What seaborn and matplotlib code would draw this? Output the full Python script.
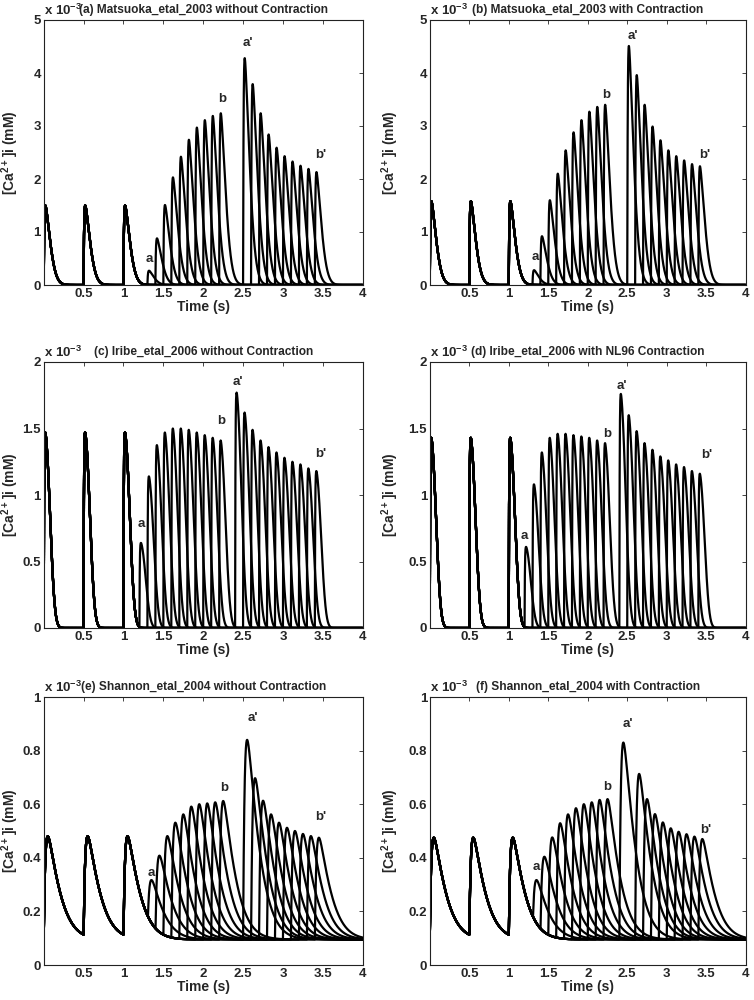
import numpy as np
import pandas as pd
import matplotlib
matplotlib.use("Agg")
import matplotlib.pyplot as plt
from matplotlib.ticker import FormatStrFormatter
import seaborn as sns

# pacing beats (one off-screen beat at -0.5 s sets the starting level)
S1_TIMES = [-0.5, 0.0, 0.5, 1.0]
TIME_TICKS = [0.5, 1.0, 1.5, 2.0, 2.5, 3.0, 3.5, 4.0]

# (a) Matsuoka_etal_2003 without contraction  (values in 1e-3 mM)
A_S1_PEAK = 1.50
A_S2_TIMES = [1.3, 1.4, 1.5, 1.6, 1.7, 1.8, 1.9, 2.0, 2.1, 2.2]
A_S2_PEAKS = [0.27, 0.88, 1.51, 2.03, 2.42, 2.74, 2.97, 3.11, 3.19, 3.24]
A_S3_TIMES = [2.5, 2.6, 2.7, 2.8, 2.9, 3.0, 3.1, 3.2, 3.3, 3.4]
A_S3_PEAKS = [4.28, 3.79, 3.24, 2.84, 2.59, 2.43, 2.33, 2.25, 2.19, 2.13]
A_LETTERS = [("a", 1.32, 0.50), ("b", 2.24, 3.51), ("a'", 2.56, 4.56), ("b'", 3.47, 2.45)]

# (b) Matsuoka_etal_2003 with contraction
B_S1_PEAK = 1.58
B_S2_TIMES = [1.3, 1.4, 1.5, 1.6, 1.7, 1.8, 1.9, 2.0, 2.1, 2.2]
B_S2_PEAKS = [0.28, 0.92, 1.60, 2.10, 2.54, 2.88, 3.11, 3.27, 3.36, 3.40]
B_S3_TIMES = [2.5, 2.6, 2.7, 2.8, 2.9, 3.0, 3.1, 3.2, 3.3, 3.4]
B_S3_PEAKS = [4.51, 3.96, 3.40, 2.99, 2.73, 2.54, 2.43, 2.35, 2.28, 2.24]
B_LETTERS = [("a", 1.33, 0.53), ("b", 2.23, 3.58), ("a'", 2.57, 4.69), ("b'", 3.48, 2.45)]

# (c) Iribe_etal_2006 without contraction
C_S1_PEAK = 1.47
C_S2_TIMES = [1.2, 1.3, 1.4, 1.5, 1.6, 1.7, 1.8, 1.9, 2.0, 2.1, 2.2]
C_S2_PEAKS = [0.64, 1.14, 1.375, 1.47, 1.50, 1.50, 1.49, 1.47, 1.45, 1.43, 1.41]
C_S3_TIMES = [2.4, 2.5, 2.6, 2.7, 2.8, 2.9, 3.0, 3.1, 3.2, 3.3, 3.4]
C_S3_PEAKS = [1.77, 1.62, 1.49, 1.41, 1.36, 1.32, 1.28, 1.25, 1.23, 1.20, 1.18]
C_LETTERS = [("a", 1.23, 0.78), ("b", 2.23, 1.56), ("a'", 2.43, 1.85), ("b'", 3.47, 1.31)]

# (d) Iribe_etal_2006 with NL96 contraction
D_S1_PEAK = 1.43
D_S2_TIMES = [1.2, 1.3, 1.4, 1.5, 1.6, 1.7, 1.8, 1.9, 2.0, 2.1, 2.2]
D_S2_PEAKS = [0.61, 1.08, 1.32, 1.43, 1.46, 1.46, 1.45, 1.44, 1.43, 1.41, 1.39]
D_S3_TIMES = [2.4, 2.5, 2.6, 2.7, 2.8, 2.9, 3.0, 3.1, 3.2, 3.3, 3.4]
D_S3_PEAKS = [1.76, 1.60, 1.48, 1.39, 1.34, 1.29, 1.26, 1.23, 1.21, 1.18, 1.16]
D_LETTERS = [("a", 1.20, 0.69), ("b", 2.24, 1.46), ("a'", 2.43, 1.82), ("b'", 3.51, 1.30)]

# (e) Shannon_etal_2004 without contraction
E_S1_PEAK = 0.48
E_S2_TIMES = [1.3, 1.4, 1.5, 1.6, 1.7, 1.8, 1.9, 2.0, 2.1, 2.2]
E_S2_PEAKS = [0.317, 0.408, 0.481, 0.531, 0.562, 0.591, 0.600, 0.603, 0.607, 0.612]
E_S3_TIMES = [2.5, 2.6, 2.7, 2.8, 2.9, 3.0, 3.1, 3.2, 3.3, 3.4]
E_S3_PEAKS = [0.84, 0.697, 0.613, 0.562, 0.531, 0.512, 0.500, 0.489, 0.481, 0.475]
E_LETTERS = [("a", 1.35, 0.345), ("b", 2.26, 0.66), ("a'", 2.62, 0.92), ("b'", 3.48, 0.553)]

# (f) Shannon_etal_2004 with contraction
F_S1_PEAK = 0.475
F_S2_TIMES = [1.3, 1.4, 1.5, 1.6, 1.7, 1.8, 1.9, 2.0, 2.1, 2.2]
F_S2_PEAKS = [0.317, 0.404, 0.476, 0.529, 0.562, 0.585, 0.600, 0.607, 0.616, 0.619]
F_S3_TIMES = [2.4, 2.6, 2.7, 2.8, 2.9, 3.0, 3.1, 3.2, 3.3, 3.4]
F_S3_PEAKS = [0.83, 0.713, 0.619, 0.563, 0.532, 0.510, 0.497, 0.488, 0.479, 0.470]
F_LETTERS = [("a", 1.35, 0.365), ("b", 2.25, 0.663), ("a'", 2.51, 0.90), ("b'", 3.50, 0.504)]

TITLES = ["(a) Matsuoka_etal_2003 without Contraction",
          "(b) Matsuoka_etal_2003 with Contraction",
          "(c) Iribe_etal_2006 without Contraction",
          "(d) Iribe_etal_2006 with NL96 Contraction",
          "(e) Shannon_etal_2004 without Contraction",
          "(f) Shannon_etal_2004 with Contraction"]

# transient shape per model: rise time, decay time, decay exponent, resting level
MATSUOKA = dict(rise=0.006, decay=0.1, power=1.7, base=0.0, ymax=5, ystep=1)
IRIBE = dict(rise=0.004, decay=0.1, power=2.4, base=0.0, ymax=2, ystep=0.5)
SHANNON = dict(rise=0.02, decay=0.2, power=1.3, base=0.095, ymax=1, ystep=0.2)

panels = [
    (A_S1_PEAK, A_S2_TIMES, A_S2_PEAKS, A_S3_TIMES, A_S3_PEAKS, A_LETTERS, MATSUOKA),
    (B_S1_PEAK, B_S2_TIMES, B_S2_PEAKS, B_S3_TIMES, B_S3_PEAKS, B_LETTERS, MATSUOKA),
    (C_S1_PEAK, C_S2_TIMES, C_S2_PEAKS, C_S3_TIMES, C_S3_PEAKS, C_LETTERS, IRIBE),
    (D_S1_PEAK, D_S2_TIMES, D_S2_PEAKS, D_S3_TIMES, D_S3_PEAKS, D_LETTERS, IRIBE),
    (E_S1_PEAK, E_S2_TIMES, E_S2_PEAKS, E_S3_TIMES, E_S3_PEAKS, E_LETTERS, SHANNON),
    (F_S1_PEAK, F_S2_TIMES, F_S2_PEAKS, F_S3_TIMES, F_S3_PEAKS, F_LETTERS, SHANNON),
]


def shape(s, rise, decay, power):
    s = np.clip(s, 0, None)
    return (1 - np.exp(-s / rise)) * np.exp(-(s / decay) ** power)


def traces(s1_peak, s2_times, s2_peaks, s3_times, s3_peaks, model):
    t = np.arange(0, 4.0005, 0.001)
    grid = np.linspace(0, 1, 20001)
    norm = shape(grid, model["rise"], model["decay"], model["power"]).max()
    base = model["base"]
    rows = []
    for k in range(len(s2_times)):
        beats = [(ts, s1_peak) for ts in S1_TIMES]
        beats += [(s2_times[k], s2_peaks[k]), (s3_times[k], s3_peaks[k])]
        ca = np.zeros_like(t)
        for ts, p in beats:
            f = shape(t - ts, model["rise"], model["decay"], model["power"]) / norm
            ca = np.maximum(ca, (p - base) * f)
        rows.append(pd.DataFrame({"t": t, "ca": base + ca, "trace": k}))
    return pd.concat(rows, ignore_index=True)


sns.set_theme(style="white")
plt.rcParams["font.family"] = ["Liberation Sans", "DejaVu Sans"]
plt.rcParams["font.weight"] = "bold"
plt.rcParams["axes.labelweight"] = "bold"
plt.rcParams["mathtext.fontset"] = "custom"
plt.rcParams["mathtext.rm"] = "Liberation Sans:bold"
plt.rcParams["mathtext.bf"] = "Liberation Sans:bold"
plt.rcParams["mathtext.default"] = "bf"

fig = plt.figure(figsize=(7.54, 10), dpi=100)
positions = [
    [0.058, 0.715, 0.423, 0.265], [0.570, 0.715, 0.419, 0.265],
    [0.058, 0.372, 0.423, 0.266], [0.570, 0.372, 0.419, 0.266],
    [0.058, 0.035, 0.423, 0.268], [0.570, 0.035, 0.419, 0.268],
]
# y label anchor (its right edge), in axes fractions, left vs right column
ylabel_x = [-0.071, -0.09]

for i, (s1, s2t, s2p, s3t, s3p, letters, model) in enumerate(panels):
    ax = fig.add_axes(positions[i])
    df = traces(s1, s2t, s2p, s3t, s3p, model)
    sns.lineplot(data=df, x="t", y="ca", units="trace", estimator=None,
                 color="black", lw=1.6, ax=ax, legend=False)
    ax.set_xlim(0, 4)
    ax.set_ylim(0, model["ymax"])
    ax.set_xticks(TIME_TICKS)
    ax.set_yticks(np.arange(0, model["ymax"] + 1e-9, model["ystep"]))
    ax.xaxis.set_major_formatter(FormatStrFormatter("%g"))
    ax.yaxis.set_major_formatter(FormatStrFormatter("%g"))
    ax.tick_params(direction="in", length=3, width=0.6, top=True, right=True,
                   labelsize=9.5, pad=2)
    for sp in ax.spines.values():
        sp.set_color("#222222")
        sp.set_linewidth(0.8)
    ax.set_xlabel("Time (s)", fontsize=10, labelpad=0)
    ax.set_ylabel(r"[Ca$^{2+}$]i (mM)", fontsize=10)
    ax.yaxis.set_label_coords(ylabel_x[i % 2], 0.5)
    ax.set_title(TITLES[i], fontsize=8.6, fontweight="bold", pad=5)
    ax.text(0, 1.008, r"x 10$^{-3}$", transform=ax.transAxes, fontsize=9.5,
            fontweight="bold", ha="left", va="bottom")
    for lab, x, y in letters:
        ax.text(x, y, lab, fontsize=9.5, fontweight="bold", ha="center", va="center")

fig.savefig("out.png", dpi=100)
